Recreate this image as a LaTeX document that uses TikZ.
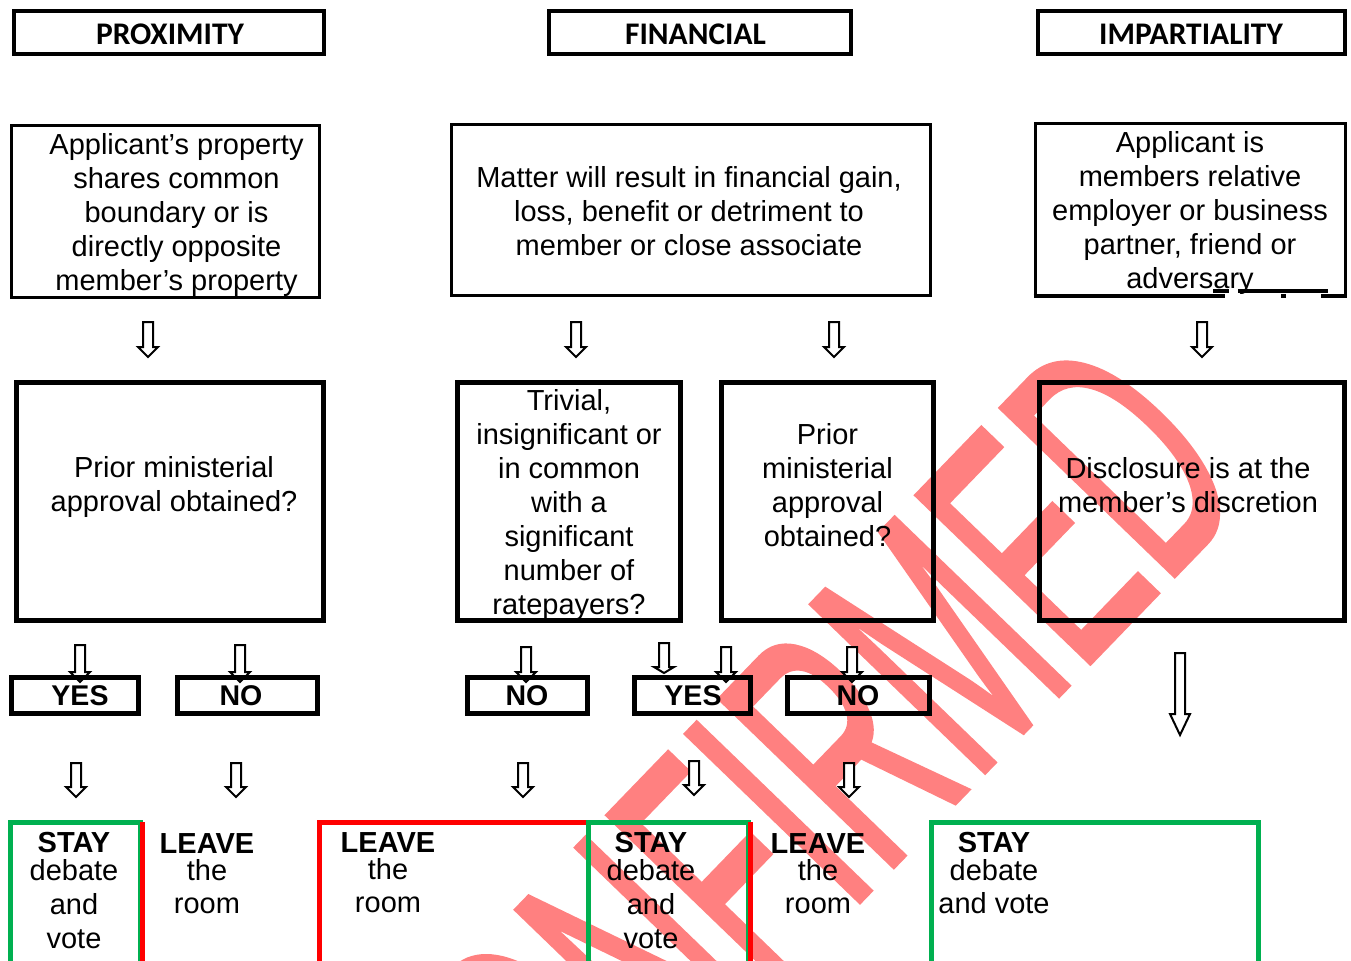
\documentclass[tikz,border=0pt]{standalone}
\usepackage{fontspec}
\usepackage{graphicx}
\setmainfont{Liberation Sans}
\newfontfamily\hdrfont{Carlito}
\newfontfamily\wmfont{Liberation Sans}[FakeBold=1.5]
\definecolor{wm}{RGB}{255,128,128}
\definecolor{okgreen}{RGB}{0,176,80}
\definecolor{stopred}{RGB}{255,0,0}
\newcommand\hollowarrow[4]{% x, top, tip, head length
  \draw[arrowline] ({#1-5},#2) -- ({#1+5},#2) -- ({#1+5},{#3-#4}) -- ({#1+10},{#3-#4})
    -- (#1,#3) -- ({#1-10},{#3-#4}) -- ({#1-5},{#3-#4}) -- cycle;}
\begin{document}
\begin{tikzpicture}[x=0.75pt,y=-0.75pt,
  box/.style={draw, inner sep=0pt},
  hdrbox/.style={box, line width=3.4pt},
  qbox/.style={box, line width=2.25pt},
  bigbox/.style={box, line width=3.75pt},
  ansbox/.style={box, line width=3.75pt},
  txt/.style={font=\fontsize{21.75}{25.5}\selectfont, align=center, inner sep=0pt},
  hdrtxt/.style={font=\hdrfont\bfseries\fontsize{23.6}{28}\selectfont, inner sep=0pt},
  anstxt/.style={font=\bfseries\fontsize{21.4}{25}\selectfont, inner sep=0pt},
  outtxt/.style={txt, anchor=north},
  gobox/.style={draw=okgreen, line width=3.75pt, inner sep=0pt},
  stopbox/.style={draw=stopred, line width=3.75pt, inner sep=0pt},
  stopline/.style={draw=stopred, line width=3.75pt},
  arrowline/.style={draw=black, line width=1.5pt, fill=white, line join=miter},
  seg/.style={draw=black, line width=2.6pt},
]
\useasboundingbox (0,0) rectangle (1351,960);
\clip (0,0) rectangle (1351,960);

% watermark
\node[rotate=46, anchor=base east, text=wm, inner sep=0pt,
      font=\wmfont\fontsize{262.5}{262.5}\selectfont] (wmark) at (1255,492)
      {\scalebox{0.52}[1]{UNCONFIRMED}};

% arrows
\hollowarrow{148}{322}{357}{10}
\hollowarrow{576}{322}{357}{10}
\hollowarrow{834}{322}{357}{10}
\hollowarrow{1202}{322}{357}{10}
\hollowarrow{80}{645}{682}{10}
\hollowarrow{240}{645}{682}{10}
\hollowarrow{526}{647}{682}{10}
\hollowarrow{664}{643}{673}{6}
\hollowarrow{726}{647}{682}{10}
\hollowarrow{852}{647}{682}{10}
\hollowarrow{76}{763}{797}{10}
\hollowarrow{236}{763}{797}{10}
\hollowarrow{523}{763}{797}{10}
\hollowarrow{694}{761}{795}{10}
\hollowarrow{849}{763}{797}{10}
\hollowarrow{1180}{653}{735}{21}

% headers
\node[hdrbox, minimum width=232.5pt, minimum height=32.25pt] (prox) at (169,32.5) {};
\node[hdrbox, minimum width=226.5pt, minimum height=32.25pt] (fin) at (700,32.5) {};
\node[hdrbox, minimum width=230.25pt, minimum height=32.25pt] (imp) at (1191.5,32.5) {};
\node[hdrtxt] (proxt) at (170,34) {PROXIMITY};
\node[hdrtxt] (fint) at (695.5,34) {FINANCIAL};
\node[hdrtxt] (impt) at (1191,34) {IMPARTIALITY};

% row 2
\node[qbox, minimum width=231pt, minimum height=129pt] (A1) at (165.5,211.5) {};
\node[qbox, minimum width=359.25pt, minimum height=128.25pt] (F1) at (691,210) {};
\node[qbox, draw=none, minimum width=230.25pt, minimum height=128.25pt] (I1) at (1190,210) {};
\draw[line width=2.25pt] (I1.south west) -- (I1.north west) -- (I1.north east) -- (I1.south east);
\draw[seg] (1033.5,296) -- (1225,296);
\draw[seg] (1281,296) -- (1286,296);
\draw[seg] (1321,296) -- (1346.5,296);
\draw[seg] (1213,291) -- (1229,291);
\draw[seg] (1238,291) -- (1328,291);
\node[txt] (A1t) at (176.5,215) {Applicant’s property\\shares common\\boundary or is\\directly opposite\\member’s property};
\node[txt] (F1t) at (689,211) {Matter will result in financial gain,\\loss, benefit or detriment to\\member or close associate};
\node[txt] (I1t) at (1190,213) {Applicant is\\members relative\\employer or business\\partner, friend or\\adversary};

% row 3
\node[bigbox, minimum width=230.25pt, minimum height=178.5pt] (P2) at (170,501.5) {};
\node[bigbox, minimum width=167.25pt, minimum height=178.5pt] (F2a) at (569,501.5) {};
\node[bigbox, minimum width=159pt, minimum height=178.5pt] (F2b) at (827.5,501.5) {};
\node[bigbox, minimum width=228.75pt, minimum height=178.5pt] (I2) at (1192,501.5) {};
\node[txt] (P2t) at (174,487) {Prior ministerial\\approval obtained?};
\node[txt] (F2at) at (569,504.5) {Trivial,\\insignificant or\\in common\\with a\\significant\\number of\\ratepayers?};
\node[txt] (F2bt) at (827.5,485.5) {Prior\\ministerial\\approval\\obtained?};
\node[txt] (I2t) at (1188,485.5) {Disclosure is at the\\member’s discretion};

% row 4
\node[ansbox, minimum width=95.25pt, minimum height=27pt] (yes1) at (75,695.5) {};
\node[ansbox, minimum width=105pt, minimum height=27pt] (no1) at (247.5,695.5) {};
\node[ansbox, minimum width=90pt, minimum height=27pt] (no2) at (527.5,695.5) {};
\node[ansbox, minimum width=87pt, minimum height=27pt] (yes2) at (692.5,695.5) {};
\node[ansbox, minimum width=106.5pt, minimum height=27pt] (no3) at (858.5,695.5) {};
\node[anstxt] (yes1t) at (80,695.5) {YES};
\node[anstxt] (no1t) at (241,695.5) {NO};
\node[anstxt] (no2t) at (527,695.5) {NO};
\node[anstxt] (yes2t) at (693,695.5) {YES};
\node[anstxt] (no3t) at (858,695.5) {NO};

% row 5
\node[gobox, minimum width=97.5pt, minimum height=135pt] (g1) at (75,912) {};
\draw[stopline] ([yshift=-1.9pt]g1.north east) -- (g1.south east);
\node[stopbox, minimum width=321.75pt, minimum height=135pt] (r2) at (533.5,912) {};
\node[gobox, minimum width=120pt, minimum height=135pt] (g3) at (668,912) {};
\draw[stopline] ([yshift=-1.9pt]g3.north east) -- (g3.south east);
\node[gobox, minimum width=245.25pt, minimum height=135pt] (g4) at (1094.5,912) {};

\node[outtxt] (b1) at (74,832) {\textbf{STAY}\\[-4.5pt]debate\\and\\vote};
\node[outtxt] (b2) at (207,833) {\textbf{LEAVE}\\[-5.25pt]the\\[-0.75pt]room};
\node[outtxt] (b3) at (388,832) {\textbf{LEAVE}\\[-5.25pt]the\\[-0.75pt]room};
\node[outtxt] (b4) at (651,832) {\textbf{STAY}\\[-4.5pt]debate\\and\\vote};
\node[outtxt] (b5) at (818,833) {\textbf{LEAVE}\\[-5.25pt]the\\[-0.75pt]room};
\node[outtxt] (b6) at (994,832) {\textbf{STAY}\\[-4.5pt]debate\\[-0.75pt]and vote};
\end{tikzpicture}
\end{document}
